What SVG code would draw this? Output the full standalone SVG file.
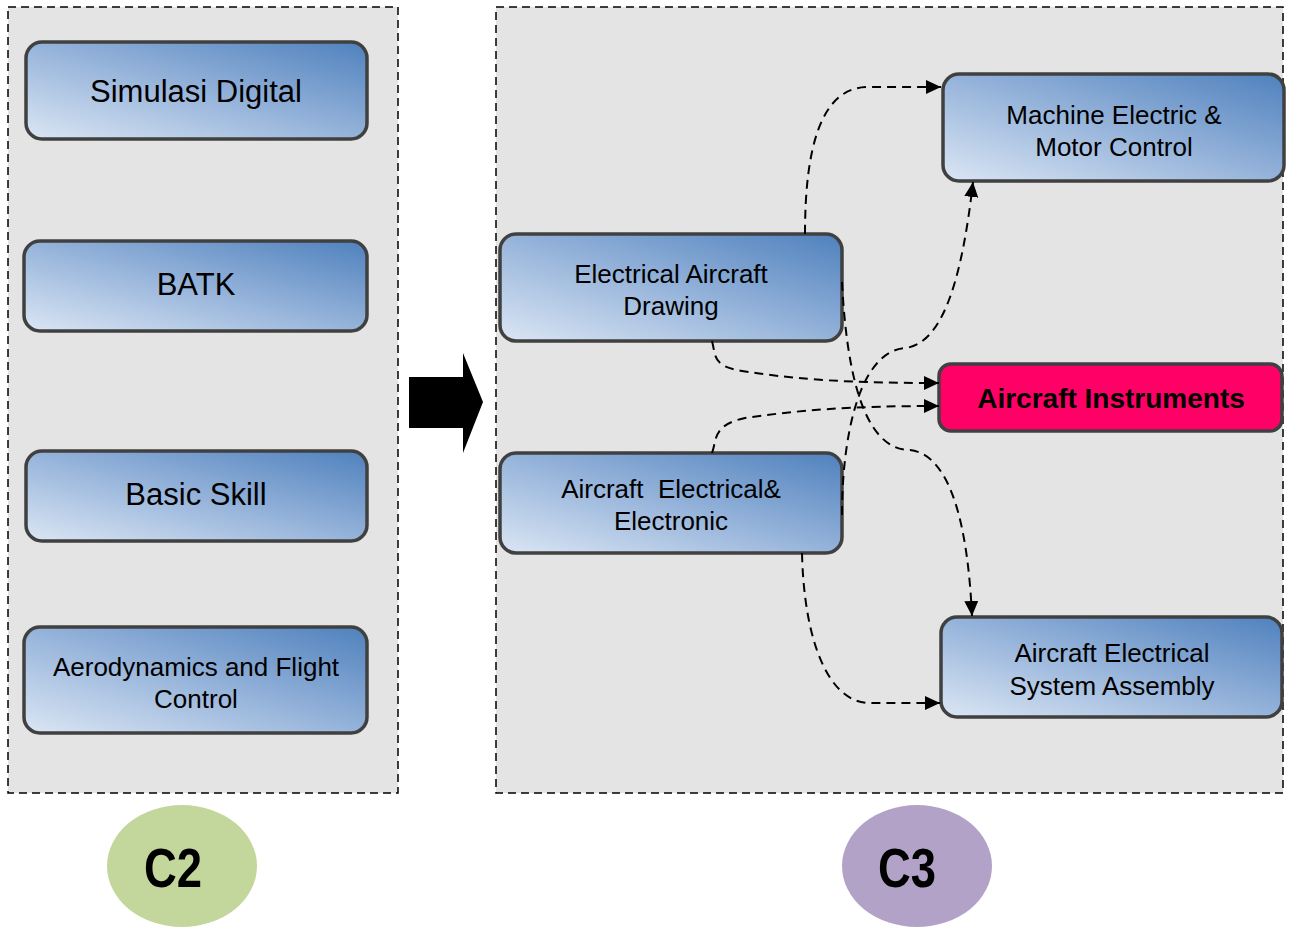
<svg xmlns="http://www.w3.org/2000/svg" width="1290" height="927" viewBox="0 0 1290 927">
<defs>
<linearGradient id="blue" x1="0" y1="1" x2="1" y2="0">
<stop offset="0" stop-color="#dbe6f4"/>
<stop offset="0.5" stop-color="#95b3da"/>
<stop offset="1" stop-color="#4f81bd"/>
</linearGradient>
<marker id="ah" viewBox="0 0 15 14" refX="15" refY="7" markerWidth="15" markerHeight="14" markerUnits="userSpaceOnUse" orient="auto">
<path d="M0,0 L15,7 L0,14 z" fill="#000"/>
</marker>
<style>
.cont{fill:#e4e4e4;stroke:#000;stroke-width:1.5;stroke-dasharray:8,5}
.node{fill:url(#blue);stroke:#404040;stroke-width:3.5}
.t1{font-family:"Liberation Sans",Arial,sans-serif;font-size:31px;fill:#000;text-anchor:middle}
.t2{font-family:"Liberation Sans",Arial,sans-serif;font-size:26px;fill:#000;text-anchor:middle;white-space:pre}
.tb{font-family:"Liberation Sans",Arial,sans-serif;font-size:28px;font-weight:bold;fill:#000;text-anchor:middle}
.tc{font-family:"Liberation Sans",Arial,sans-serif;font-size:55px;font-weight:bold;fill:#000;text-anchor:middle}
.conn{fill:none;stroke:#000;stroke-width:2;stroke-dasharray:9,6;marker-end:url(#ah)}
</style>
</defs>
<rect class="cont" x="8" y="7" width="390" height="786"/>
<rect class="cont" x="496" y="7" width="787" height="786"/>
<g id="simulasi">
<rect class="node" x="26" y="42" width="341" height="97" rx="16"/>
<text class="t1" x="196" y="102">Simulasi Digital</text>
</g>
<g id="batk">
<rect class="node" x="24" y="241" width="343" height="90" rx="16"/>
<text class="t1" x="196" y="295">BATK</text>
</g>
<g id="basic">
<rect class="node" x="26" y="451" width="341" height="90" rx="16"/>
<text class="t1" x="196" y="505">Basic Skill</text>
</g>
<g id="aero">
<rect class="node" x="24" y="627" width="343" height="106" rx="16"/>
<text class="t2" x="196" y="676">Aerodynamics and Flight</text>
<text class="t2" x="196" y="708">Control</text>
</g>
<g id="bigarrow">
<polygon points="409,377 463,377 463,353 483,402 463,453 463,428 409,428" fill="#000"/>
</g>
<g id="ead">
<rect class="node" x="500" y="234" width="342" height="107" rx="16"/>
<text class="t2" x="671" y="283">Electrical Aircraft</text>
<text class="t2" x="671" y="315">Drawing</text>
</g>
<g id="aee">
<rect class="node" x="500" y="453" width="342" height="100" rx="16"/>
<text class="t2" x="671" y="498">Aircraft  Electrical&amp;</text>
<text class="t2" x="671" y="530">Electronic</text>
</g>
<g id="machine">
<rect class="node" x="943" y="74" width="341" height="107" rx="16"/>
<text class="t2" x="1114" y="124">Machine Electric &amp;</text>
<text class="t2" x="1114" y="156">Motor Control</text>
</g>
<g id="instruments">
<rect x="939" y="364" width="343" height="67" rx="12" fill="#ff0066" stroke="#404040" stroke-width="3.5"/>
<text class="tb" x="1111" y="408">Aircraft Instruments</text>
</g>
<g id="assembly">
<rect class="node" x="941" y="617" width="341" height="100" rx="16"/>
<text class="t2" x="1112" y="662">Aircraft Electrical</text>
<text class="t2" x="1112" y="695">System Assembly</text>
</g>
<g id="connectors">
<path class="conn" d="M805,234 C805,150 820,87 868,87 L941,87"/>
<path class="conn" d="M842,515 C842,440 858,352 905,348 C945,344 963,270 973,182"/>
<path class="conn" d="M842,282 C846,360 860,450 910,450 C952,455 968,530 972,616"/>
<path class="conn" d="M712,341 C716,356 712,366 742,371 C790,378 830,383 939,383"/>
<path class="conn" d="M712,453 C717,440 712,425 745,418 C800,410 850,406 939,406"/>
<path class="conn" d="M802,553 C804,640 828,703 870,703 L940,703"/>
</g>
<g id="c2">
<ellipse cx="182" cy="866" rx="75" ry="61" fill="#c3d69b"/>
<text class="tc" x="173" y="887" textLength="58" lengthAdjust="spacingAndGlyphs">C2</text>
</g>
<g id="c3">
<ellipse cx="917" cy="866" rx="75" ry="61" fill="#b3a2c7"/>
<text class="tc" x="907" y="887" textLength="58" lengthAdjust="spacingAndGlyphs">C3</text>
</g>
</svg>
